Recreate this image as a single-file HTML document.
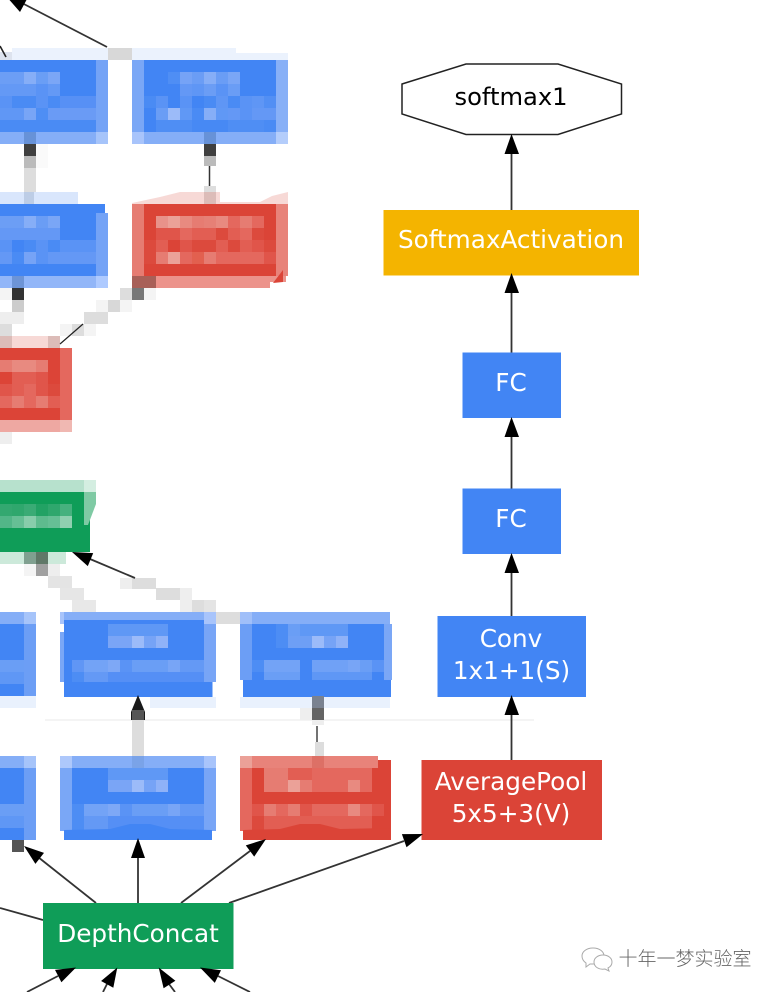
<!DOCTYPE html>
<html><head><meta charset="utf-8">
<style>
html,body{margin:0;padding:0;background:#fff;width:776px;height:992px;overflow:hidden}
svg{display:block}
.p rect{shape-rendering:crispEdges}
text{font-family:"DejaVu Sans",sans-serif;font-size:24.7px;fill:#fff;text-anchor:middle}
.e{stroke:#333;stroke-width:1.8;fill:none}
</style></head><body>
<svg width="776" height="992" viewBox="0 0 776 992" xmlns="http://www.w3.org/2000/svg">
<rect width="776" height="992" fill="#fff"/>
<path d="M45 720H534" stroke="#f0f0f0" stroke-width="1.5"/>
<g class="p">
<!-- Node A -->
<rect x="12" y="48" width="96" height="12" fill="#ebf2fd"/><rect x="0" y="52" width="12" height="8" fill="#dde3ee"/>
<rect x="0" y="60" width="96" height="72" fill="#4285f4"/><rect x="96" y="60" width="12" height="72" fill="#74a3f6"/>
<rect x="0" y="72" width="24" height="12" fill="#6c9ef5"/><rect x="24" y="72" width="12" height="12" fill="#86aef7"/><rect x="36" y="72" width="12" height="12" fill="#6a9ef5"/><rect x="48" y="72" width="12" height="12" fill="#7ba6f6"/>
<rect x="0" y="84" width="36" height="12" fill="#6499f5"/><rect x="36" y="84" width="12" height="12" fill="#5a93f5"/><rect x="48" y="84" width="12" height="12" fill="#6499f5"/>
<rect x="0" y="96" width="12" height="12" fill="#5a93f5"/><rect x="12" y="96" width="24" height="12" fill="#4a8bf4"/><rect x="36" y="96" width="12" height="12" fill="#5a93f5"/><rect x="48" y="96" width="12" height="12" fill="#4a8bf4"/><rect x="60" y="96" width="36" height="12" fill="#5790f5"/>
<rect x="0" y="108" width="24" height="12" fill="#6097f5"/><rect x="24" y="108" width="12" height="12" fill="#78a5f6"/><rect x="36" y="108" width="12" height="12" fill="#4e8ef4"/><rect x="48" y="108" width="48" height="12" fill="#6a9bf5"/>
<rect x="0" y="120" width="96" height="12" fill="#4a8bf4"/>
<rect x="0" y="132" width="96" height="12" fill="#85aef7"/><rect x="24" y="132" width="12" height="12" fill="#6792d8"/><rect x="96" y="132" width="12" height="12" fill="#a6c4fa"/>
<rect x="24" y="144" width="12" height="12" fill="#404040"/><rect x="24" y="156" width="12" height="12" fill="#bbb"/><rect x="24" y="168" width="12" height="24" fill="#ddd"/>
<rect x="36" y="144" width="12" height="24" fill="#fafafa"/>
<!-- strip -->
<rect x="108" y="48" width="24" height="12" fill="#d8d8d8"/>
<!-- Node B -->
<rect x="132" y="48" width="104" height="12" fill="#ebf2fd"/><rect x="236" y="53" width="52" height="7" fill="#ebf2fd"/>
<rect x="132" y="60" width="12" height="72" fill="#7aa7f6"/><rect x="144" y="60" width="132" height="72" fill="#4285f4"/><rect x="276" y="60" width="12" height="72" fill="#88b0f7"/>
<rect x="168" y="72" width="12" height="12" fill="#4f8ef4"/><rect x="180" y="72" width="12" height="12" fill="#76a3f6"/><rect x="192" y="72" width="12" height="12" fill="#6b9df5"/><rect x="204" y="72" width="12" height="12" fill="#86aef7"/><rect x="216" y="72" width="12" height="12" fill="#6a9df5"/><rect x="228" y="72" width="12" height="12" fill="#7aa6f6"/>
<rect x="180" y="84" width="12" height="12" fill="#6498f5"/><rect x="192" y="84" width="12" height="12" fill="#5f96f5"/><rect x="204" y="84" width="12" height="12" fill="#6b9df5"/><rect x="216" y="84" width="12" height="12" fill="#5a93f5"/><rect x="228" y="84" width="12" height="12" fill="#6a9df5"/>
<rect x="144" y="96" width="12" height="12" fill="#4a8bf4"/><rect x="156" y="96" width="12" height="12" fill="#5a93f5"/><rect x="180" y="96" width="12" height="12" fill="#5a93f5"/><rect x="204" y="96" width="12" height="12" fill="#4a8bf4"/><rect x="216" y="96" width="12" height="12" fill="#5f96f5"/><rect x="228" y="96" width="12" height="12" fill="#4a8bf4"/><rect x="240" y="96" width="12" height="12" fill="#5a93f5"/><rect x="252" y="96" width="12" height="12" fill="#5f96f5"/><rect x="264" y="96" width="12" height="12" fill="#528ff4"/>
<rect x="156" y="108" width="12" height="12" fill="#6a9df5"/><rect x="168" y="108" width="12" height="12" fill="#9cbbf9"/><rect x="180" y="108" width="12" height="12" fill="#6098f5"/><rect x="192" y="108" width="12" height="12" fill="#4a8bf4"/><rect x="204" y="108" width="12" height="12" fill="#86aef7"/><rect x="216" y="108" width="12" height="12" fill="#6098f5"/><rect x="228" y="108" width="12" height="12" fill="#6498f5"/><rect x="240" y="108" width="12" height="12" fill="#5a93f5"/><rect x="252" y="108" width="24" height="12" fill="#6498f5"/>
<rect x="156" y="120" width="36" height="12" fill="#4f8ef4"/><rect x="192" y="120" width="36" height="12" fill="#4789f4"/><rect x="228" y="120" width="36" height="12" fill="#4f8ef4"/><rect x="264" y="120" width="12" height="12" fill="#4a8bf4"/>
<rect x="132" y="132" width="12" height="12" fill="#a8c4fb"/><rect x="144" y="132" width="132" height="12" fill="#85aef7"/><rect x="204" y="132" width="12" height="12" fill="#6792d8"/><rect x="276" y="132" width="12" height="12" fill="#b4cdfb"/>
<rect x="204" y="144" width="12" height="12" fill="#404040"/><rect x="204" y="156" width="12" height="10" fill="#bbb"/><rect x="204" y="186" width="12" height="6" fill="#ddd"/>
<!-- Node C -->
<rect x="0" y="192" width="78" height="12" fill="#d9e6fc"/><rect x="24" y="192" width="10" height="12" fill="#bdcde6"/>
<rect x="0" y="204" width="105" height="12" fill="#4285f4"/><rect x="0" y="216" width="96" height="60" fill="#4285f4"/><rect x="96" y="213" width="12" height="63" fill="#74a3f6"/>
<rect x="0" y="216" width="24" height="12" fill="#6c9ef5"/><rect x="24" y="216" width="12" height="12" fill="#86aef7"/><rect x="36" y="216" width="12" height="12" fill="#6a9df5"/><rect x="48" y="216" width="12" height="12" fill="#7aa6f6"/>
<rect x="0" y="228" width="60" height="12" fill="#6498f5"/>
<rect x="0" y="240" width="12" height="12" fill="#5a93f5"/><rect x="24" y="240" width="12" height="12" fill="#4a8bf4"/><rect x="36" y="240" width="12" height="12" fill="#5a93f5"/><rect x="48" y="240" width="12" height="12" fill="#4a8bf4"/><rect x="60" y="240" width="36" height="12" fill="#5a93f5"/>
<rect x="0" y="252" width="12" height="12" fill="#6498f5"/><rect x="12" y="252" width="12" height="12" fill="#4a8bf4"/><rect x="24" y="252" width="12" height="12" fill="#76a3f6"/><rect x="36" y="252" width="12" height="12" fill="#5a93f5"/><rect x="48" y="252" width="48" height="12" fill="#6498f5"/>
<rect x="0" y="276" width="96" height="12" fill="#92b6f8"/><rect x="12" y="276" width="12" height="12" fill="#6d94d6"/><rect x="96" y="276" width="12" height="12" fill="#aecaff"/>
<rect x="12" y="288" width="12" height="12" fill="#333"/><rect x="0" y="288" width="12" height="12" fill="#f4f4f4"/><rect x="12" y="300" width="12" height="12" fill="#ccc"/><rect x="0" y="312" width="24" height="12" fill="#eee"/><rect x="0" y="324" width="12" height="12" fill="#ddd"/>
<!-- Node D -->
<rect x="144" y="202" width="132" height="3" fill="#db4437"/>
<rect x="132" y="204" width="12" height="72" fill="#e67c72"/><rect x="144" y="204" width="132" height="72" fill="#db4437"/><rect x="276" y="204" width="12" height="72" fill="#e8837a"/>
<rect x="156" y="216" width="12" height="12" fill="#e8928a"/><rect x="168" y="216" width="12" height="12" fill="#eba198"/><rect x="180" y="216" width="12" height="12" fill="#e88a80"/><rect x="192" y="216" width="12" height="12" fill="#e67c72"/><rect x="204" y="216" width="12" height="12" fill="#e68076"/><rect x="216" y="216" width="12" height="12" fill="#e88a80"/><rect x="228" y="216" width="12" height="12" fill="#e4685e"/><rect x="240" y="216" width="12" height="12" fill="#e67c72"/><rect x="252" y="216" width="12" height="12" fill="#e4685e"/>
<rect x="156" y="228" width="24" height="12" fill="#e0554a"/><rect x="180" y="228" width="12" height="12" fill="#e4685e"/><rect x="192" y="228" width="24" height="12" fill="#e25e53"/><rect x="216" y="228" width="12" height="12" fill="#dc4a3d"/><rect x="228" y="228" width="12" height="12" fill="#e25e53"/><rect x="240" y="228" width="12" height="12" fill="#e4685e"/><rect x="252" y="228" width="12" height="12" fill="#dc4a3d"/>
<rect x="144" y="240" width="12" height="12" fill="#dc4a3d"/><rect x="156" y="240" width="12" height="12" fill="#e25e53"/><rect x="180" y="240" width="12" height="12" fill="#e0554a"/><rect x="192" y="240" width="24" height="12" fill="#dc4a3d"/><rect x="216" y="240" width="12" height="12" fill="#e25e53"/><rect x="228" y="240" width="12" height="12" fill="#dc4a3d"/><rect x="240" y="240" width="12" height="12" fill="#e25e53"/><rect x="252" y="240" width="12" height="12" fill="#e0554a"/><rect x="264" y="240" width="12" height="12" fill="#dc4a3d"/>
<rect x="144" y="252" width="12" height="12" fill="#dc4a3d"/><rect x="156" y="252" width="12" height="12" fill="#e67c72"/><rect x="168" y="252" width="12" height="12" fill="#eba198"/><rect x="180" y="252" width="12" height="12" fill="#e4685e"/><rect x="192" y="252" width="12" height="12" fill="#e2604f"/><rect x="204" y="252" width="12" height="12" fill="#e67c72"/><rect x="216" y="252" width="48" height="12" fill="#e4685e"/><rect x="264" y="252" width="12" height="12" fill="#e0554a"/>
<rect x="132" y="276" width="24" height="12" fill="#a86058"/><rect x="156" y="276" width="114" height="12" fill="#ec938b"/><rect x="270" y="276" width="16" height="6" fill="#ec938b"/>
<rect x="120" y="288" width="12" height="12" fill="#ddd"/><rect x="132" y="288" width="12" height="12" fill="#777"/><rect x="144" y="288" width="12" height="12" fill="#f4f4f4"/>
<rect x="96" y="300" width="12" height="12" fill="#f4f4f4"/><rect x="108" y="300" width="12" height="12" fill="#d8d8d8"/><rect x="120" y="300" width="12" height="12" fill="#f4f4f4"/>
<rect x="84" y="312" width="24" height="12" fill="#ddd"/>
<rect x="60" y="324" width="12" height="12" fill="#f4f4f4"/><rect x="72" y="324" width="12" height="12" fill="#ddd"/><rect x="84" y="324" width="12" height="12" fill="#f4f4f4"/>
<!-- Node E -->
<rect x="0" y="336" width="60" height="12" fill="#f7d9d6"/><rect x="0" y="336" width="12" height="12" fill="#dcbcb8"/><rect x="48" y="336" width="12" height="12" fill="#dcbcb8"/>
<rect x="0" y="348" width="60" height="72" fill="#dc4437"/><rect x="60" y="348" width="12" height="72" fill="#e4685e"/>
<rect x="0" y="360" width="12" height="12" fill="#e67c72"/><rect x="12" y="360" width="24" height="12" fill="#e88a80"/><rect x="36" y="360" width="12" height="12" fill="#e67c72"/>
<rect x="12" y="372" width="24" height="12" fill="#e25e53"/><rect x="36" y="372" width="12" height="12" fill="#e0554a"/>
<rect x="0" y="384" width="12" height="12" fill="#e0554a"/><rect x="12" y="384" width="12" height="12" fill="#e25e53"/><rect x="24" y="384" width="12" height="12" fill="#e4685e"/><rect x="36" y="384" width="12" height="12" fill="#e0554a"/><rect x="48" y="384" width="12" height="12" fill="#dc4a3d"/>
<rect x="0" y="396" width="12" height="12" fill="#e4685e"/><rect x="12" y="396" width="12" height="12" fill="#e67c72"/><rect x="24" y="396" width="12" height="12" fill="#e4685e"/><rect x="36" y="396" width="12" height="12" fill="#e67c72"/><rect x="48" y="396" width="12" height="12" fill="#e25e53"/>
<rect x="0" y="420" width="60" height="12" fill="#eea8a2"/><rect x="60" y="420" width="12" height="12" fill="#f0b8b2"/>
<rect x="0" y="432" width="12" height="12" fill="#eee"/>
<!-- Green -->
<rect x="0" y="480" width="84" height="12" fill="#b7e1cd"/><rect x="84" y="480" width="12" height="12" fill="#d4eee1"/>
<rect x="0" y="492" width="90" height="60" fill="#0f9d58"/>
<rect x="0" y="504" width="12" height="12" fill="#33a870"/><rect x="12" y="504" width="24" height="12" fill="#2fa76d"/><rect x="24" y="504" width="12" height="12" fill="#3aab75"/><rect x="36" y="504" width="12" height="12" fill="#22a264"/><rect x="48" y="504" width="12" height="12" fill="#2fa76d"/><rect x="60" y="504" width="12" height="12" fill="#46b17e"/>
<rect x="0" y="516" width="12" height="12" fill="#52b688"/><rect x="12" y="516" width="12" height="12" fill="#66bf95"/><rect x="24" y="516" width="12" height="12" fill="#88cdab"/><rect x="36" y="516" width="12" height="12" fill="#5ebb8e"/><rect x="48" y="516" width="12" height="12" fill="#66bf95"/><rect x="60" y="516" width="12" height="12" fill="#90d0b0"/>
<rect x="0" y="552" width="66" height="12" fill="#cce9da"/><rect x="24" y="552" width="12" height="12" fill="#80a090"/><rect x="36" y="552" width="12" height="12" fill="#607868"/>
<rect x="24" y="564" width="12" height="12" fill="#f4f4f4"/><rect x="36" y="564" width="12" height="12" fill="#a0a0a0"/><rect x="48" y="564" width="12" height="12" fill="#eee"/>
<rect x="48" y="576" width="24" height="12" fill="#e4e4e4"/><rect x="60" y="588" width="24" height="12" fill="#e6e6e6"/><rect x="72" y="600" width="24" height="12" fill="#e8e8e8"/>
<rect x="120" y="578" width="12" height="11" fill="#eee"/><rect x="132" y="578" width="24" height="11" fill="#ddd"/>
<rect x="156" y="588" width="24" height="12" fill="#ddd"/><rect x="180" y="588" width="12" height="12" fill="#eee"/>
<rect x="180" y="600" width="12" height="12" fill="#eee"/><rect x="192" y="600" width="12" height="12" fill="#ddd"/><rect x="204" y="600" width="12" height="12" fill="#e4e4e4"/>
<rect x="216" y="612" width="24" height="12" fill="#ddd"/>
<!-- Left stub upper -->
<rect x="0" y="612" width="24" height="12" fill="#85aef7"/><rect x="24" y="612" width="12" height="12" fill="#a6c4fa"/>
<rect x="0" y="624" width="24" height="72" fill="#4285f4"/><rect x="24" y="624" width="12" height="72" fill="#6c9ef5"/>
<rect x="0" y="660" width="24" height="12" fill="#6a9ef5"/><rect x="0" y="672" width="24" height="12" fill="#5f97f5"/>
<rect x="0" y="696" width="36" height="12" fill="#e9f1fd"/>
<!-- Blue 2 -->
<rect x="64" y="612" width="152" height="12" fill="#85aef7"/><rect x="60" y="612" width="12" height="12" fill="#a8c4fb"/><rect x="84" y="612" width="12" height="12" fill="#7aa3e8"/><rect x="204" y="612" width="12" height="12" fill="#a8c4fb"/>
<rect x="60" y="632" width="12" height="50" fill="#7aa7f6"/><rect x="64" y="620" width="140" height="62" fill="#4285f4"/><rect x="204" y="624" width="12" height="58" fill="#78a5f6"/>
<rect x="64" y="612" width="140" height="8" fill="#85aef7"/>
<rect x="108" y="624" width="60" height="12" fill="#5f98f5"/>
<rect x="108" y="636" width="24" height="12" fill="#7aa5f6"/><rect x="132" y="636" width="12" height="12" fill="#9cbbf9"/><rect x="144" y="636" width="12" height="12" fill="#76a3f6"/><rect x="156" y="636" width="12" height="12" fill="#8fb2f8"/>
<rect x="72" y="660" width="12" height="12" fill="#6096f5"/><rect x="84" y="660" width="24" height="12" fill="#73a3f6"/><rect x="108" y="660" width="12" height="12" fill="#7ea8f6"/><rect x="120" y="660" width="12" height="12" fill="#5a93f5"/><rect x="132" y="660" width="36" height="12" fill="#6a9ef5"/><rect x="168" y="660" width="12" height="12" fill="#78a5f6"/><rect x="180" y="660" width="24" height="12" fill="#6499f5"/>
<rect x="72" y="672" width="12" height="10" fill="#4d8df4"/><rect x="84" y="672" width="24" height="10" fill="#6499f5"/><rect x="108" y="672" width="96" height="10" fill="#558ff5"/>
<rect x="64" y="682" width="148.500" height="15" fill="#4285f4"/>
<rect x="132" y="710" width="12" height="10" fill="#555"/><rect x="132" y="720" width="12" height="36" fill="#ddd"/><rect x="150" y="697" width="66" height="11" fill="#e9f1fd"/>
<!-- Blue 3 -->
<rect x="240" y="612" width="150" height="12" fill="#85aef7"/><rect x="240" y="612" width="12" height="12" fill="#a0bff9"/>
<rect x="240" y="624" width="12" height="56" fill="#6c9ef5"/><rect x="252" y="624" width="132" height="56" fill="#4285f4"/><rect x="384" y="624" width="8" height="56" fill="#7ba7f6"/>
<rect x="276" y="624" width="12" height="12" fill="#4d8df4"/><rect x="288" y="624" width="12" height="12" fill="#6a9ef5"/><rect x="300" y="624" width="48" height="12" fill="#5f98f5"/>
<rect x="276" y="636" width="12" height="12" fill="#4d8df4"/><rect x="288" y="636" width="24" height="12" fill="#6e9ff5"/><rect x="312" y="636" width="12" height="12" fill="#9cbbf9"/><rect x="324" y="636" width="12" height="12" fill="#76a3f6"/><rect x="336" y="636" width="12" height="12" fill="#8fb2f8"/>
<rect x="252" y="660" width="12" height="12" fill="#4d8df4"/><rect x="264" y="660" width="36" height="12" fill="#73a3f6"/><rect x="312" y="660" width="36" height="12" fill="#70a1f6"/><rect x="348" y="660" width="12" height="12" fill="#78a5f6"/><rect x="360" y="660" width="12" height="12" fill="#6a9ef5"/><rect x="372" y="660" width="12" height="12" fill="#5a93f5"/>
<rect x="264" y="672" width="36" height="8" fill="#6a9ef5"/><rect x="312" y="672" width="36" height="8" fill="#5f97f5"/><rect x="348" y="672" width="24" height="8" fill="#5f97f5"/>
<rect x="243" y="680" width="148" height="17" fill="#4285f4"/>
<rect x="240" y="697" width="150" height="11" fill="#e9f1fd"/><rect x="312" y="696" width="12" height="12" fill="#7a8290"/>
<rect x="300" y="708" width="12" height="12" fill="#eee"/><rect x="312" y="708" width="12" height="12" fill="#646464"/><rect x="312" y="720" width="12" height="5" fill="#eee"/><rect x="315" y="742" width="9" height="14" fill="#ddd"/>
<!-- Left stub lower -->
<rect x="0" y="756" width="24" height="12" fill="#85aef7"/><rect x="24" y="756" width="12" height="12" fill="#a6c4fa"/>
<rect x="0" y="768" width="24" height="72" fill="#4285f4"/><rect x="24" y="768" width="12" height="72" fill="#6c9ef5"/>
<rect x="0" y="804" width="24" height="12" fill="#6a9ef5"/><rect x="0" y="816" width="24" height="12" fill="#5f97f5"/>
<rect x="12" y="840" width="12" height="12" fill="#555"/>
<!-- Blue 4 -->
<rect x="60" y="756" width="156" height="12" fill="#85aef7"/><rect x="60" y="756" width="12" height="12" fill="#aec8fb"/><rect x="132" y="756" width="12" height="12" fill="#7aa3e8"/><rect x="204" y="756" width="12" height="12" fill="#a8c4fb"/>
<rect x="60" y="768" width="12" height="63" fill="#7aa7f6"/><rect x="72" y="768" width="132" height="63" fill="#4285f4"/><rect x="204" y="768" width="12" height="63" fill="#78a5f6"/>
<rect x="108" y="768" width="60" height="12" fill="#5f98f5"/>
<rect x="108" y="780" width="24" height="12" fill="#7aa5f6"/><rect x="132" y="780" width="12" height="12" fill="#9cbbf9"/><rect x="144" y="780" width="12" height="12" fill="#76a3f6"/><rect x="156" y="780" width="12" height="12" fill="#8fb2f8"/>
<rect x="72" y="804" width="12" height="12" fill="#4d8df4"/><rect x="84" y="804" width="24" height="12" fill="#73a3f6"/><rect x="108" y="804" width="12" height="12" fill="#7ea8f6"/><rect x="120" y="804" width="12" height="12" fill="#5a93f5"/><rect x="132" y="804" width="36" height="12" fill="#6a9ef5"/><rect x="168" y="804" width="12" height="12" fill="#78a5f6"/><rect x="180" y="804" width="24" height="12" fill="#6499f5"/>
<rect x="72" y="816" width="12" height="15" fill="#4d8df4"/><rect x="84" y="816" width="24" height="15" fill="#6499f5"/><rect x="108" y="816" width="96" height="15" fill="#558ff5"/>
<path d="M64 840V830L110 829L130 824L150 824L170 829L212 830V840Z" fill="#4285f4"/>
<!-- Red -->
<rect x="240" y="756" width="12" height="12" fill="#eba198"/><rect x="252" y="756" width="126" height="12" fill="#e8837a"/><rect x="312" y="756" width="12" height="12" fill="#dd7066"/><rect x="378" y="760" width="13" height="10" fill="#db4437"/>
<rect x="240" y="768" width="12" height="63" fill="#e4685e"/><rect x="252" y="768" width="139" height="63" fill="#db4437"/>
<rect x="264" y="768" width="24" height="12" fill="#e67c72"/><rect x="288" y="768" width="24" height="12" fill="#e25e53"/><rect x="312" y="768" width="60" height="12" fill="#e4685e"/>
<rect x="264" y="780" width="24" height="12" fill="#e67c72"/><rect x="288" y="780" width="12" height="12" fill="#eba198"/><rect x="300" y="780" width="12" height="12" fill="#e67c72"/><rect x="312" y="780" width="36" height="12" fill="#e4685e"/><rect x="348" y="780" width="12" height="12" fill="#e88a80"/><rect x="360" y="780" width="12" height="12" fill="#e4685e"/>
<rect x="252" y="804" width="12" height="12" fill="#e0554a"/><rect x="264" y="804" width="12" height="12" fill="#e67c72"/><rect x="276" y="804" width="12" height="12" fill="#e4685e"/><rect x="288" y="804" width="12" height="12" fill="#e67c72"/><rect x="300" y="804" width="12" height="12" fill="#e0554a"/><rect x="312" y="804" width="36" height="12" fill="#e4685e"/><rect x="348" y="804" width="12" height="12" fill="#e88a80"/><rect x="360" y="804" width="12" height="12" fill="#e4685e"/><rect x="372" y="804" width="12" height="12" fill="#e0554a"/>
<rect x="252" y="816" width="12" height="15" fill="#dc4a3d"/><rect x="264" y="816" width="48" height="15" fill="#e25e53"/><rect x="312" y="816" width="36" height="15" fill="#e25e53"/><rect x="348" y="816" width="24" height="15" fill="#e25e53"/>
<path d="M243 840V830L280 829L300 824L320 824L340 829L391 828V840Z" fill="#db4437"/>
</g>
<!-- soft slanted edges -->
<path d="M132 203L160 197L180 192H220V202H260L272 196L288 192V204H132Z" fill="#f7d9d6"/>
<rect x="204" y="192" width="12" height="12" fill="#dcbcb8"/>
<path d="M84 492H96V504L88 525H84Z" fill="#7fcaa4"/>
<path d="M273 283L283 282V270Z" fill="#db4437"/>
<!-- left edges -->
<path class="e" d="M107 47L20 2"/><path d="M6 -4L27 -1L20 12Z" fill="#000"/>
<path d="M0 46L6 57" stroke="#222" stroke-width="1.6"/>
<path d="M60 344L83 324" stroke="#222" stroke-width="1.2"/>
<path d="M209.500 166V186" stroke="#333" stroke-width="1.500"/>
<path class="e" d="M135 578L90 559"/><path d="M72 552L93.200 553.100L87.800 566.100Z" fill="#000"/>
<path d="M138 695L145 712V720H131V712Z" fill="#000" opacity=".9"/>
<rect x="132" y="710" width="12" height="10" fill="#555"/>
<path d="M317 726V742" stroke="#444" stroke-width="1.500"/>
<!-- Right column -->
<polygon points="402,84 466,64 558,64 621.500,84 621.500,114 558,134.500 466,134.500 402,114" fill="#fff" stroke="#222" stroke-width="1.500"/>
<text x="511" y="105" style="fill:#000;font-size:24.2px">softmax1</text>
<path class="e" d="M511.500 210V154"/><path d="M511.500 134L519 154H504.500Z" fill="#000"/>
<rect x="383.500" y="210" width="255.500" height="65.500" fill="#f4b400"/>
<text x="511" y="248">SoftmaxActivation</text>
<path class="e" d="M511.500 352.500V293"/><path d="M511.500 273L519 293H504.500Z" fill="#000"/>
<rect x="462.500" y="352.500" width="98.500" height="65.500" fill="#4285f4"/>
<text x="511" y="391">FC</text>
<path class="e" d="M511.500 488.500V437"/><path d="M511.500 417L519 437H504.500Z" fill="#000"/>
<rect x="462.500" y="488.500" width="98.500" height="65.500" fill="#4285f4"/>
<text x="511" y="527">FC</text>
<path class="e" d="M511.500 616V573"/><path d="M511.500 553L519 573H504.500Z" fill="#000"/>
<rect x="437.500" y="616" width="148.500" height="81" fill="#4285f4"/>
<text x="511" y="647">Conv</text><text x="511.500" y="679">1x1+1(S)</text>
<path class="e" d="M511.500 760V715"/><path d="M511.500 695L519 715H504.500Z" fill="#000"/>
<rect x="421.500" y="760" width="180.500" height="80" fill="#db4437"/>
<text x="511" y="790">AveragePool</text><text x="511" y="822">5x5+3(V)</text>
<!-- DepthConcat and its edges -->
<path class="e" d="M96 903L38 857"/><path d="M24 846L44 852.900L35.400 863.900Z" fill="#000"/>
<path class="e" d="M138 903V858"/><path d="M138 838L145 858H131Z" fill="#000"/>
<path class="e" d="M181 903L250 851"/><path d="M266 839L254.200 856.600L245.800 845.400Z" fill="#000"/>
<path class="e" d="M229 903L404 841"/><path d="M423 834L406.500 847.300L401.900 834.100Z" fill="#000"/>
<path class="e" d="M0 908L43 920"/>
<rect x="43" y="903" width="190.500" height="66" fill="#0f9d58"/>
<text x="138" y="942">DepthConcat</text>
<path class="e" d="M27 992L58 976"/><path d="M76 967.500L61.400 982.300L55 969.900Z" fill="#000"/>
<path class="e" d="M103 992L107 984"/><path d="M117.300 967.500L113.300 987.800L101.100 981Z" fill="#000"/>
<path class="e" d="M175 992L169 984"/><path d="M158.700 967.500L175.400 980.700L163.600 988.300Z" fill="#000"/>
<path class="e" d="M250 992L218 976"/><path d="M200 967.500L221 970.300L214.800 982.900Z" fill="#000"/>
<!-- Watermark -->
<g fill="#fff" stroke="#aaa" stroke-width="1">
<path d="M593 948c7 0 11 4 11 8c0 4-4 8-11 8l-3 0l-4 3l0-4c-3-2-4-4-4-7c0-4 4-8 11-8z"/>
<path d="M603 955c5 0 9 3 9 7c0 3-2 5-4 6l1 3l-4-2c-6 1-11-2-11-7c0-4 4-7 9-7z"/>
</g>
<text x="685" y="965" style="font-family:'Liberation Sans','Noto Sans CJK SC',sans-serif;font-size:19px;font-weight:300;fill:#666">十年一梦实验室</text>
</svg>
</body></html>
